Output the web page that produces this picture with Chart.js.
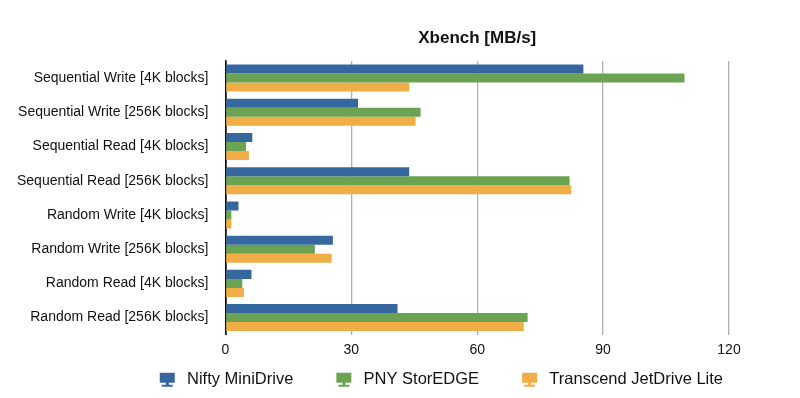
<!DOCTYPE html>
<html>
<head>
<meta charset="utf-8">
<script src="https://cdn.jsdelivr.net/npm/chart.js@4/dist/chart.umd.min.js"></script>
<style>
	html, body { margin: 0; padding: 0; background: #fff; }
	#wrap { width: 800px; height: 398px; }
</style>
</head>
<body>
<div id="wrap"><canvas id="myChart"></canvas></div>
<script>
const chartTitle = 'Xbench [MB/s]';
const labels = [
	'Sequential Write [4K blocks]',
	'Sequential Write [256K blocks]',
	'Sequential Read [4K blocks]',
	'Sequential Read [256K blocks]',
	'Random Write [4K blocks]',
	'Random Write [256K blocks]',
	'Random Read [4K blocks]',
	'Random Read [256K blocks]'
];
const seriesNames = ['Nifty MiniDrive', 'PNY StorEDGE', 'Transcend JetDrive Lite'];
const nifty = [85.3, 31.6, 6.4, 43.8, 3.1, 25.6, 6.2, 41.0];
const pny = [109.4, 46.5, 4.9, 82.0, 1.4, 21.3, 4.0, 72.0];
const transcend = [43.8, 45.3, 5.6, 82.4, 1.4, 25.3, 4.4, 71.1];
const xTicks = [0, 30, 60, 90, 120];

const colors = ['#36689f', '#6ba353', '#f1ae46'];
const fontFamily = '"Liberation Sans", Arial, Helvetica, sans-serif';

// little monitor-shaped legend icon, blank space on the left gives the gap between items
const iconWidth = 56;
function makeIcon(color) {
	const c = document.createElement('canvas');
	c.width = iconWidth;
	c.height = 16;
	const g = c.getContext('2d');
	g.fillStyle = color;
	const x0 = iconWidth - 19;
	g.fillRect(x0, 1, 15, 10);
	g.fillRect(x0 + 6, 11, 3, 2);
	g.fillRect(x0 + 2, 13, 11, 2);
	return c;
}

// title centred over the plot area, not the whole canvas
const plotTitle = {
	id: 'plotTitle',
	afterDraw(chart) {
		const ctx = chart.ctx;
		const area = chart.chartArea;
		ctx.save();
		ctx.font = 'bold 17px ' + fontFamily;
		ctx.fillStyle = '#111';
		ctx.textAlign = 'center';
		ctx.textBaseline = 'middle';
		ctx.fillText(chartTitle, (area.left + area.right) / 2, 38);
		ctx.restore();
	}
};

document.addEventListener('DOMContentLoaded', function () {
	const ctx = document.getElementById('myChart').getContext('2d');
	const series = [nifty, pny, transcend];
	const icons = colors.map(makeIcon);
	new Chart(ctx, {
		type: 'bar',
		data: {
			labels: labels,
			datasets: series.map(function (d, i) {
				return {
					label: seriesNames[i],
					data: d,
					backgroundColor: colors[i],
					borderWidth: 0,
					barPercentage: 1.0,
					categoryPercentage: 0.79
				};
			})
		},
		options: {
			indexAxis: 'y',
			responsive: true,
			maintainAspectRatio: false,
			animation: false,
			layout: { padding: { top: 61, right: 71, left: 0, bottom: 0 } },
			scales: {
				x: {
					min: 0,
					max: 120,
					afterBuildTicks: function (axis) {
						axis.ticks = xTicks.map(function (v) { return { value: v }; });
					},
					grid: {
						color: function (c) { return c.tick && c.tick.value === 0 ? '#111' : '#b0b0b0'; },
						lineWidth: function (c) { return c.tick && c.tick.value === 0 ? 1.5 : 1.3; },
						drawTicks: false
					},
					border: { display: false },
					ticks: {
						color: '#111',
						padding: 7,
						font: { family: fontFamily, size: 14 }
					}
				},
				y: {
					grid: { display: false, drawTicks: false },
					border: { display: true, color: '#111', width: 1.5 },
					ticks: {
						color: '#111',
						padding: 17,
						font: { family: fontFamily, size: 14 }
					}
				}
			},
			plugins: {
				title: { display: false },
				tooltip: { enabled: false },
				legend: {
					position: 'bottom',
					align: 'end',
					labels: {
						color: '#111',
						usePointStyle: true,
						pointStyleWidth: iconWidth,
						padding: 6,
						font: { family: fontFamily, size: 16.5 },
						generateLabels: function (chart) {
							const items = Chart.defaults.plugins.legend.labels.generateLabels(chart);
							items.forEach(function (it, i) { it.pointStyle = icons[i]; });
							return items;
						}
					}
				}
			}
		},
		plugins: [plotTitle]
	});
});
</script>
</body>
</html>
